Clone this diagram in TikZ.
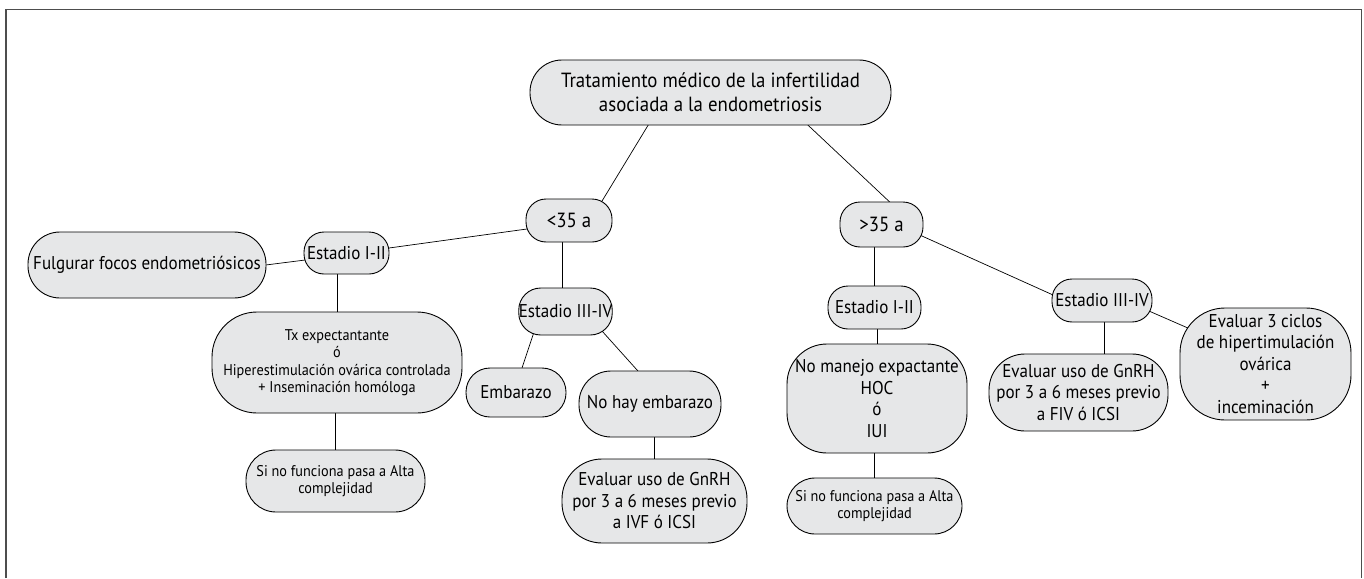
\documentclass[tikz,border=0pt]{standalone}
\usepackage{fontspec}
\setmainfont{PT Sans}[FakeStretch=0.92]
\usetikzlibrary{calc,backgrounds}
\definecolor{boxfill}{HTML}{E6E7E8}
\definecolor{framegray}{HTML}{4D4D4D}
\tikzset{
  bx/.style={draw=black, line width=0.9pt, fill=boxfill, rounded corners=#1,
    inner sep=0pt, align=center, text=black, font=\fontsize{18.5}{21.5}\selectfont},
  bx/.default=20pt,
  big/.style={font=\fontsize{20.5}{24}\selectfont},
  small/.style={font=\fontsize{15.5}{17.5}\selectfont},
  link/.style={draw=black, line width=0.7pt},
}
\begin{document}
\begin{tikzpicture}[x=1pt,y=-1pt]
\useasboundingbox (0,0) rectangle (1364,578);
\draw[framegray, line width=1.2pt] (6,578) -- (6,9.5) -- (1361.5,9.5) -- (1361.5,578);

\node[bx=32pt, big, minimum width=361pt, minimum height=65pt] (root) at (710.5,92.5)
  {Tratamiento médico de la infertilidad\\asociada a la endometriosis};
\node[bx=20pt, big, minimum width=86pt, minimum height=43pt] (lt35) at (569,220.5) {<35 a};
\node[bx=20pt, big, minimum width=83pt, minimum height=45pt] (gt35) at (881.5,224.5) {>35 a};

\node[bx=20pt, minimum width=85pt, minimum height=42pt] (e12L) at (346.5,253) {Estadio I-II};
\node[bx=32pt, minimum width=238pt, minimum height=66pt] (fulg) at (147,265) {Fulgurar focos endometriósicos};
\node[bx=45pt, small, minimum width=250pt, minimum height=101pt] (tx) at (337,362.5)
  {Tx expectantante\\ó\\Hiperestimulación ovárica controlada\\+ Inseminación homóloga};
\node[bx=30pt, small, minimum width=179pt, minimum height=62pt] (sinoL) at (335.5,481)
  {Si no funciona pasa a Alta\\complejidad};

\node[bx=22pt, minimum width=93pt, minimum height=47pt] (e34L) at (565.5,311.5) {Estadio III-IV};
\node[bx=24pt, minimum width=100pt, minimum height=49pt] (emb) at (516,392.5) {Embarazo};
\node[bx=32pt, minimum width=142pt, minimum height=66pt] (nohay) at (650,404) {No hay embarazo};
\node[bx=40pt, minimum width=185pt, minimum height=84pt] (evalL) at (654.5,501)
  {Evaluar uso de GnRH\\por 3 a 6 meses previo\\a IVF ó ICSI};

\node[bx=20pt, minimum width=93pt, minimum height=43pt] (e12R) at (874.5,307.5) {Estadio I-II};
\node[bx=40pt, minimum width=180pt, minimum height=109pt] (noman) at (877,398.5)
  {No manejo expactante\\HOC\\ó\\IUI};
\node[bx=28pt, small, minimum width=175pt, minimum height=56pt] (sinoR) at (874.5,506)
  {Si no funciona pasa a Alta\\complejidad};

\node[bx=20pt, minimum width=100pt, minimum height=43pt] (e34R) at (1102,300.5) {Estadio III-IV};
\node[bx=36pt, minimum width=179pt, minimum height=77pt] (evalR) at (1078.5,392.5)
  {Evaluar uso de GnRH\\por 3 a 6 meses previo\\a FIV ó ICSI};
\node[bx=45pt, minimum width=171pt, minimum height=112pt] (eval3) at (1265.5,364)
  {Evaluar 3 ciclos\\de hipertimulación\\ovárica\\+\\inceminación};

\begin{scope}[on background layer]
  \draw[link] ($(root.south)+(-59.5,-5)$) -- ($(lt35.center)+(30,-14.5)$);
  \draw[link] ($(root.south)+(92.5,-5)$) -- ($(gt35.center)+(13.5,-17.5)$);
  \draw[link] ($(lt35.center)+(-37,7.8)$) -- ($(e12L.center)+(37.5,-4.3)$);
  \draw[link] ($(e12L.center)+(-36.5,6.4)$) -- ($(fulg.center)+(114,0.6)$);
  \draw[link] (tx.north) -- (tx.north |- e12L.south);
  \draw[link] (sinoL.north) -- (sinoL.north |- tx.south);
  \draw[link] ($(e34L.north)+(-3.5,0)$) -- ($(e34L.north |- lt35.south)+(-3.5,0)$);
  \draw[link] ($(e34L.center)+(-31.2,19.5)$) -- ($(emb.center)+(4.7,-20.5)$);
  \draw[link] ($(e34L.center)+(33.8,16.5)$) -- ($(nohay.center)+(-10,-30.7)$);
  \draw[link] (evalL.north) -- (evalL.north |- nohay.south);
  \draw[link] ($(gt35.center)+(36,9.5)$) -- ($(e34R.center)+(-44.5,-3.5)$);
  \draw[link] (e12R.north) -- (e12R.north |- gt35.south);
  \draw[link] (noman.north) -- (noman.north |- e12R.south);
  \draw[link] (sinoR.north) -- (sinoR.north |- noman.south);
  \draw[link] ($(e34R.south)+(2,0)$) -- ($(e34R.south |- evalR.north)+(2,0)$);
  \draw[link] ($(e34R.center)+(43,8.8)$) -- ($(eval3.center)+(-73.5,-34.2)$);
\end{scope}
\end{tikzpicture}
\end{document}
